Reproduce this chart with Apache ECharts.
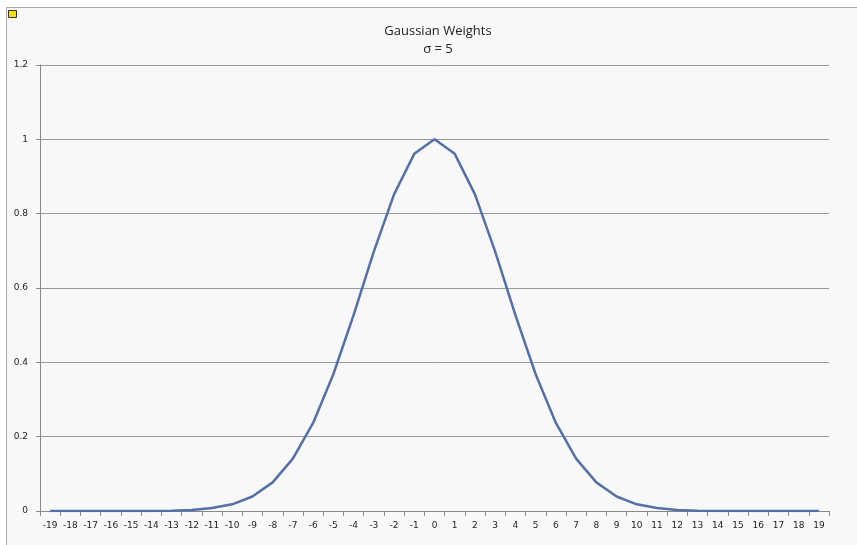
<!DOCTYPE html>
<html>
<head>
<meta charset="utf-8">
<script src="https://cdn.jsdelivr.net/npm/echarts@6/dist/echarts.min.js"></script>
<style>
  html, body { margin: 0; padding: 0; background: #fff; }
  #chart { width: 857px; height: 545px; }
</style>
</head>
<body>
<div id="chart"></div>
<script>
const offsets = ['-19', '-18', '-17', '-16', '-15', '-14', '-13', '-12', '-11', '-10',
  '-9', '-8', '-7', '-6', '-5', '-4', '-3', '-2', '-1', '0',
  '1', '2', '3', '4', '5', '6', '7', '8', '9', '10',
  '11', '12', '13', '14', '15', '16', '17', '18', '19'];

// weights (sigma = 5)
const weights = [0, 0, 0, 0, 0, 0, 0.001, 0.003, 0.008, 0.018,
  0.039, 0.077, 0.141, 0.237, 0.368, 0.527, 0.698, 0.852, 0.961, 1,
  0.961, 0.852, 0.698, 0.527, 0.368, 0.237, 0.141, 0.077, 0.039, 0.018,
  0.008, 0.003, 0.001, 0, 0, 0, 0, 0, 0];

const chart = echarts.init(document.getElementById('chart'));
chart.setOption({
  backgroundColor: '#ffffff',
  animation: false,
  graphic: [
    {
      type: 'rect',
      shape: { x: 6.5, y: 7.5, width: 860, height: 550 },
      style: { fill: '#f8f8f8', stroke: '#a8a8a8', lineWidth: 1 },
      z: -10
    },
    {
      type: 'rect',
      shape: { x: 8.5, y: 10.5, width: 8, height: 7 },
      style: { fill: '#f0e000', stroke: '#333', lineWidth: 1 }
    }
  ],
  title: {
    text: 'Gaussian Weights\nσ = 5',
    left: 433,
    textAlign: 'center',
    top: 17,
    textStyle: {
      fontFamily: 'Open Sans',
      fontSize: 13,
      fontWeight: 'normal',
      color: '#222',
      lineHeight: 18
    }
  },
  grid: { left: 40, right: 28, top: 65, bottom: 34 },
  xAxis: {
    type: 'category',
    data: offsets,
    boundaryGap: true,
    axisLine: { lineStyle: { color: '#888', width: 1 } },
    axisTick: { show: true, alignWithLabel: false, length: 5, lineStyle: { color: '#888' } },
    axisLabel: { fontFamily: 'DejaVu Sans', fontSize: 9, color: '#222', margin: 10, interval: 0 },
    splitLine: { show: false }
  },
  yAxis: {
    type: 'value',
    min: 0,
    max: 1.2,
    interval: 0.2,
    axisLine: { show: true, lineStyle: { color: '#888', width: 1 } },
    axisTick: { show: true, length: 4, lineStyle: { color: '#888' } },
    axisLabel: {
      fontFamily: 'DejaVu Sans', fontSize: 9, color: '#222', margin: 12,
      formatter: v => String(Math.round(v * 10) / 10)
    },
    splitLine: { show: true, lineStyle: { color: '#999', width: 1 } }
  },
  series: [{
    type: 'line',
    data: weights,
    symbol: 'none',
    smooth: false,
    lineStyle: { color: '#5470a8', width: 2.5 }
  }]
});
</script>
</body>
</html>
